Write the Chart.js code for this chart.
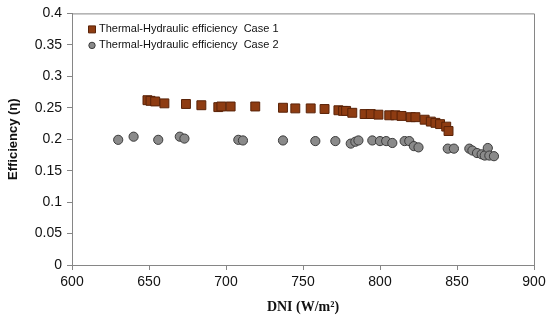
<!DOCTYPE html>
<html>
<head>
<meta charset="utf-8">
<script src="https://cdn.jsdelivr.net/npm/chart.js@4"></script>
<style>
  html, body { margin: 0; padding: 0; background: #fff; }
  #wrap { width: 550px; height: 324px; }
</style>
</head>
<body>
<div id="wrap"><canvas id="chart" width="550" height="324"></canvas></div>
<script>
// values
const case1DNI = [649, 651, 654, 660, 674, 684, 695, 697, 703, 719, 737, 745, 755, 764, 773, 776, 778, 782, 790, 794, 799, 806, 810, 814, 820, 823, 829, 833, 836, 839, 843, 844.5];
const case1Eff = [0.262, 0.261, 0.260, 0.257, 0.256, 0.254, 0.251, 0.252, 0.252, 0.252, 0.250, 0.249, 0.249, 0.248, 0.246, 0.245, 0.245, 0.242, 0.240, 0.240, 0.239, 0.238, 0.238, 0.237, 0.235, 0.235, 0.231, 0.228, 0.226, 0.224, 0.220, 0.213];
const case2DNI = [630, 640, 656, 670, 673, 708, 711, 737, 758, 771, 781, 784, 786, 795, 800, 804, 808, 816, 819, 822, 825, 844, 848, 858, 860, 863, 866, 868, 870, 871, 874];
const case2Eff = [0.199, 0.204, 0.199, 0.204, 0.201, 0.199, 0.198, 0.198, 0.197, 0.197, 0.193, 0.196, 0.198, 0.198, 0.197, 0.197, 0.194, 0.197, 0.197, 0.189, 0.187, 0.185, 0.185, 0.185, 0.182, 0.178, 0.176, 0.174, 0.186, 0.174, 0.173];
const seriesNames = ["Thermal-Hydraulic efficiency  Case 1", "Thermal-Hydraulic efficiency  Case 2"];
const xTitle = "DNI (W/m\u00b2)";
const yTitle = "Efficiency (\u03b7)";

function toPoints(xs, ys) {
  return xs.map((x, i) => ({ x: x, y: ys[i] }));
}

const axisColor = '#868686';

// draws the top and right sides of the plot box
const frame = {
  id: 'frame',
  afterDraw(chart) {
    const a = chart.chartArea, ctx = chart.ctx;
    ctx.save();
    ctx.strokeStyle = axisColor;
    ctx.lineWidth = 1;
    ctx.beginPath();
    ctx.moveTo(a.left, a.top + 0.5);
    ctx.lineTo(a.right + 0.5, a.top + 0.5);
    ctx.lineTo(a.right + 0.5, a.bottom);
    ctx.stroke();
    ctx.restore();
  }
};

// legend sitting inside the plot, top left
const innerLegend = {
  id: 'innerLegend',
  afterDraw(chart) {
    const a = chart.chartArea, ctx = chart.ctx;
    ctx.save();
    ctx.font = '11px "Liberation Sans", Arial, sans-serif';
    ctx.textBaseline = 'middle';
    chart.data.datasets.forEach((ds, i) => {
      const y = a.top + 16 + i * 16;
      const mx = a.left + 20;
      ctx.fillStyle = ds.backgroundColor;
      ctx.strokeStyle = ds.borderColor;
      ctx.lineWidth = 1;
      ctx.beginPath();
      if (ds.pointStyle === 'rect') {
        ctx.rect(mx - 3.5, y - 3.5, 7, 7);
      } else {
        ctx.arc(mx, y, 3.2, 0, Math.PI * 2);
      }
      ctx.fill();
      ctx.stroke();
      ctx.fillStyle = '#111';
      ctx.fillText(ds.label, mx + 7, y);
    });
    ctx.restore();
  }
};

new Chart(document.getElementById('chart'), {
  type: 'scatter',
  data: {
    datasets: [
      {
        label: seriesNames[0],
        data: toPoints(case1DNI, case1Eff),
        pointStyle: 'rect',
        pointRadius: 6.3,
        backgroundColor: '#8e3c12',
        borderColor: '#5a2308',
        borderWidth: 1
      },
      {
        label: seriesNames[1],
        data: toPoints(case2DNI, case2Eff),
        pointStyle: 'circle',
        pointRadius: 4.6,
        backgroundColor: '#8a8a8a',
        borderColor: '#3c3c3c',
        borderWidth: 1
      }
    ]
  },
  options: {
    responsive: false,
    animation: false,
    layout: { padding: { left: 6, right: 16, top: 12, bottom: 8 } },
    plugins: {
      legend: { display: false },
      tooltip: { enabled: false }
    },
    scales: {
      x: {
        type: 'linear',
        min: 600,
        max: 900,
        ticks: {
          stepSize: 50,
          color: '#111',
          padding: 4,
          font: { family: '"Liberation Sans", Arial, sans-serif', size: 14 }
        },
        grid: { drawOnChartArea: false, drawTicks: true, tickLength: 5, color: axisColor },
        border: { color: axisColor },
        title: {
          display: true,
          text: xTitle,
          color: '#111',
          padding: { top: 8, bottom: 0 },
          font: { family: '"Liberation Serif", "Times New Roman", serif', size: 14, weight: 'bold' }
        },
        afterFit(scale) { scale.height = 51; }
      },
      y: {
        min: 0,
        max: 0.4,
        ticks: {
          stepSize: 0.05,
          color: '#111',
          padding: 5,
          callback: v => String(parseFloat(v.toFixed(2))),
          font: { family: '"Liberation Sans", Arial, sans-serif', size: 14 }
        },
        grid: { drawOnChartArea: false, drawTicks: true, tickLength: 5, color: axisColor },
        border: { color: axisColor },
        title: {
          display: true,
          text: yTitle,
          color: '#111',
          padding: { top: 0, bottom: 2 },
          font: { family: '"Liberation Sans", Arial, sans-serif', size: 13, weight: 'bold' }
        },
        afterFit(scale) { scale.width = 66; }
      }
    }
  },
  plugins: [frame, innerLegend]
});
</script>
</body>
</html>
